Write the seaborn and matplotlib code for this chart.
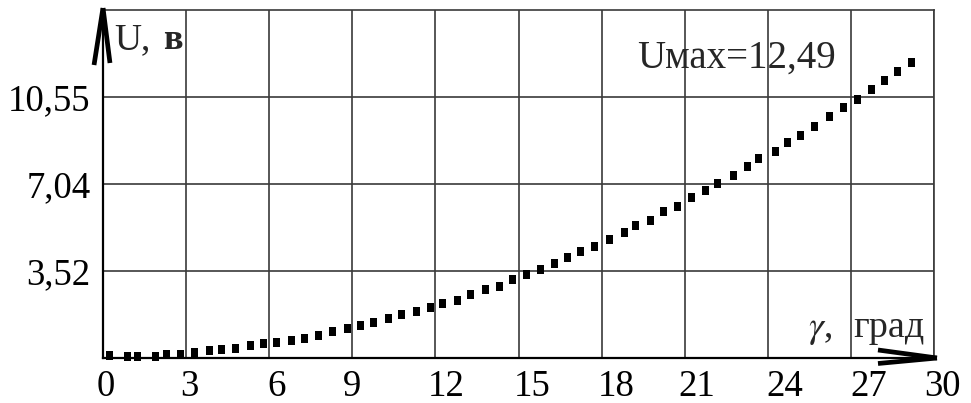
import numpy as np
import pandas as pd
import matplotlib
matplotlib.use("Agg")
import matplotlib.pyplot as plt
from matplotlib.path import Path
from matplotlib.markers import MarkerStyle
import matplotlib.transforms as mtransforms
import seaborn as sns

# Output voltage U (V) versus angle gamma (deg)
gamma = [0.23, 0.89, 1.25, 1.88, 2.3, 2.78, 3.32, 3.84, 4.26, 4.8, 5.31, 5.79,
         6.27, 6.79, 7.29, 7.77, 8.29, 8.83, 9.30, 9.78, 10.3, 10.78, 11.3,
         11.83, 12.25, 12.79, 13.25, 13.82, 14.3, 14.78, 15.3, 15.78, 16.29,
         16.76, 17.24, 17.76, 18.28, 18.81, 19.23, 19.75, 20.23, 20.75, 21.23,
         21.76, 22.18, 22.76, 23.27, 23.66, 24.29, 24.71, 25.19, 25.7, 26.22,
         26.73, 27.23, 27.75, 28.23, 28.69, 29.17]
voltage = [0.12, 0.08, 0.08, 0.08, 0.15, 0.13, 0.21, 0.30, 0.35, 0.39, 0.49,
           0.57, 0.62, 0.70, 0.80, 0.90, 1.06, 1.20, 1.31, 1.43, 1.58, 1.74,
           1.87, 2.05, 2.21, 2.32, 2.55, 2.75, 2.90, 3.16, 3.39, 3.59, 3.81,
           4.04, 4.30, 4.51, 4.78, 5.05, 5.34, 5.56, 5.90, 6.13, 6.50, 6.77,
           7.04, 7.37, 7.72, 8.06, 8.35, 8.69, 8.99, 9.36, 9.73, 10.11, 10.45,
           10.85, 11.19, 11.55, 11.93]

x_ticks = [0, 3, 6, 9, 12, 15, 18, 21, 24, 27, 30]
y_ticks = [3.52, 7.04, 10.55]
y_tick_labels = ["3,52", "7,04", "10,55"]
y_top = 14.07
u_max_label = "Uмах=12,49"

# hand-set horizontal nudges (pixels) of the x tick labels
x_label_shift = [3, 3, 7, 0, 11, 14, 15, 12, 17, 18, 8]

df = pd.DataFrame({"gamma": gamma, "U": voltage})

sns.set_style("white")
plt.rcParams["font.family"] = ["Liberation Serif", "DejaVu Serif"]
plt.rcParams["mathtext.fontset"] = "stix"

fig = plt.figure(figsize=(9.71, 4.03), dpi=100)
ax = fig.add_axes([103 / 971, 45 / 403, 831 / 971, 348.5 / 403])

# upright rectangular dash used for each computed point
rect = MarkerStyle(Path([(-3.5, -4.5), (3.5, -4.5), (3.5, 4.5), (-3.5, 4.5),
                         (-3.5, -4.5)],
                        [Path.MOVETO, Path.LINETO, Path.LINETO, Path.LINETO,
                         Path.CLOSEPOLY]))
sns.scatterplot(data=df, x="gamma", y="U", marker=rect, s=42, color="black",
                edgecolor="none", linewidth=0, ax=ax, zorder=3, clip_on=False)

ax.set_xlim(0, 30)
ax.set_ylim(0, y_top)
ax.set_xticks(x_ticks)
ax.set_xticklabels([str(t) for t in x_ticks])
ax.set_yticks(y_ticks)
ax.set_yticklabels(y_tick_labels)
ax.tick_params(axis="both", length=0, labelsize=26.5, colors="black")
ax.tick_params(axis="x", pad=8.5)
ax.tick_params(axis="y", pad=9)
ax.set_xlabel("")
ax.set_ylabel("")

for lab, dx in zip(ax.get_xticklabels(), x_label_shift):
    lab.set_transform(lab.get_transform() +
                      mtransforms.ScaledTranslation(dx / 100, 0,
                                                    fig.dpi_scale_trans))

ax.grid(True, color="#3a3a3a", linewidth=1.2)
for side in ("top", "right"):
    ax.spines[side].set_color("#3a3a3a")
    ax.spines[side].set_linewidth(1.2)
for side in ("left", "bottom"):
    ax.spines[side].set_color("black")
    ax.spines[side].set_linewidth(1.6)

# axis arrows
tr = ax.transAxes
arrow_kw = dict(color="black", linewidth=3.4, solid_capstyle="butt",
                transform=tr, clip_on=False, zorder=4)
ax.plot([-0.0108, 0.0], [0.8407, 1.0043], **arrow_kw)
ax.plot([0.0084, 0.0], [0.8465, 1.0043], **arrow_kw)
ax.plot([0.9326, 1.0036], [0.023, 0.0], **arrow_kw)
ax.plot([0.9326, 1.0036], [-0.0158, 0.0], **arrow_kw)

# axis captions
ax.text(0.40, 12.47, "U,", fontsize=27, ha="left", va="baseline")
ax.text(2.17, 12.47, "в", fontsize=26, fontweight="bold", ha="left",
        va="baseline")
ax.text(25.45, 0.85, r"$\gamma$,", fontsize=27, ha="left", va="baseline")
ax.text(27.07, 0.85, "град", fontsize=27.5, ha="left", va="baseline")
ax.text(19.28, 11.74, u_max_label, fontsize=28, ha="left", va="baseline")

fig.savefig("out.png", dpi=100, facecolor="white")
